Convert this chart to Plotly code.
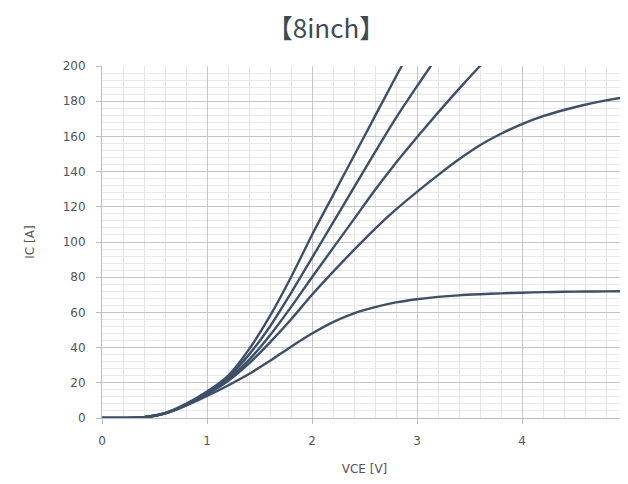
import plotly.graph_objects as go

# ---- data ----
vce = [0, 0.2, 0.4, 0.6, 0.8, 1.0, 1.2, 1.4, 1.6, 1.8, 2.0, 2.2, 2.4, 2.6, 2.8,
       3.0, 3.2, 3.4, 3.6, 3.8, 4.0, 4.2, 4.4, 4.6, 4.8, 5.0]

ic_curve1 = [0, 0, 0.4, 2.5, 7, 12.5, 18.5, 25, 32.5, 40.5, 48, 54.5, 59.5, 63, 65.7,
             67.5, 68.8, 69.7, 70.3, 70.8, 71.2, 71.5, 71.7, 71.85, 71.95, 72]
ic_curve2 = [0, 0, 0.4, 2.6, 7.3, 13.5, 21, 31, 43, 56, 70, 83, 95.5, 107.5, 118.5,
             128.5, 138, 147, 155, 161.5, 167, 171.5, 175, 178, 180.5, 182.5]
ic_curve3 = [0, 0, 0.4, 2.7, 7.5, 14, 22, 33, 47, 63, 80, 96.5, 113, 129.5, 145,
             159.5, 173.5, 187, 200, 212.5]
ic_curve4 = [0, 0, 0.4, 2.7, 7.7, 14.5, 23, 36, 52, 71, 91, 111, 131, 151, 170.5,
             188.5, 206]
ic_curve5 = [0, 0, 0.4, 2.8, 8, 15, 24, 39, 58, 80, 104, 126.5, 149, 171.5, 194,
             216]

curves = [ic_curve1, ic_curve2, ic_curve3, ic_curve4, ic_curve5]

x_ticks = [0, 1, 2, 3, 4, 5]
y_ticks = [0, 20, 40, 60, 80, 100, 120, 140, 160, 180, 200]

title_text = "【8inch】"
x_title = "VCE [V]"
y_title = "IC [A]"

# ---- figure ----
fig = go.Figure()
line_color = "#3e4f69"
for ys in curves:
    fig.add_trace(go.Scatter(
        x=vce[:len(ys)], y=ys, mode="lines",
        line=dict(color=line_color, width=2.4, shape="spline", smoothing=0.8),
        showlegend=False, hoverinfo="skip"))

tick_font = dict(family="DejaVu Sans", size=12, color="#555555")
W, H = 620, 476  # page body has an 8px margin

fig.update_layout(
    width=W, height=H,
    margin=dict(l=94, r=1, t=58, b=66),
    paper_bgcolor="white", plot_bgcolor="white",
    title=dict(text=title_text, x=318 / W, xref="container", xanchor="center",
               y=1 - 21 / H, yref="container", yanchor="middle",
               font=dict(family="Noto Sans CJK JP", size=26, color="#3f4a52")),
    showlegend=False,
)

fig.update_xaxes(
    range=[0, 5], tickvals=x_ticks, ticktext=[str(v) for v in x_ticks],
    showgrid=True, gridcolor="#c6c6c6", gridwidth=1,
    minor=dict(dtick=0.2, showgrid=True, gridcolor="#e4e4e4", gridwidth=1),
    showline=True, linecolor="#bdbdbd", linewidth=1,
    ticks="outside", ticklen=5, tickcolor="#bdbdbd",
    tickfont=tick_font, zeroline=False, ticklabelstandoff=7,
    ticklabeloverflow="allow", automargin=False,
    title=dict(text=x_title, font=dict(family="DejaVu Sans", size=12, color="#555555"),
               standoff=17),
)
fig.update_yaxes(
    range=[0, 200], tickvals=y_ticks, ticktext=[str(v) for v in y_ticks],
    showgrid=True, gridcolor="#c6c6c6", gridwidth=1,
    minor=dict(dtick=4, showgrid=True, gridcolor="#e9e9e9", gridwidth=1),
    showline=True, linecolor="#bdbdbd", linewidth=1,
    ticks="outside", ticklen=5, tickcolor="#bdbdbd",
    tickfont=tick_font, zeroline=False, ticklabelstandoff=8,
    title=dict(text=y_title, font=dict(family="DejaVu Sans", size=12, color="#555555"),
               standoff=25),
)

fig.write_html("out.html")
